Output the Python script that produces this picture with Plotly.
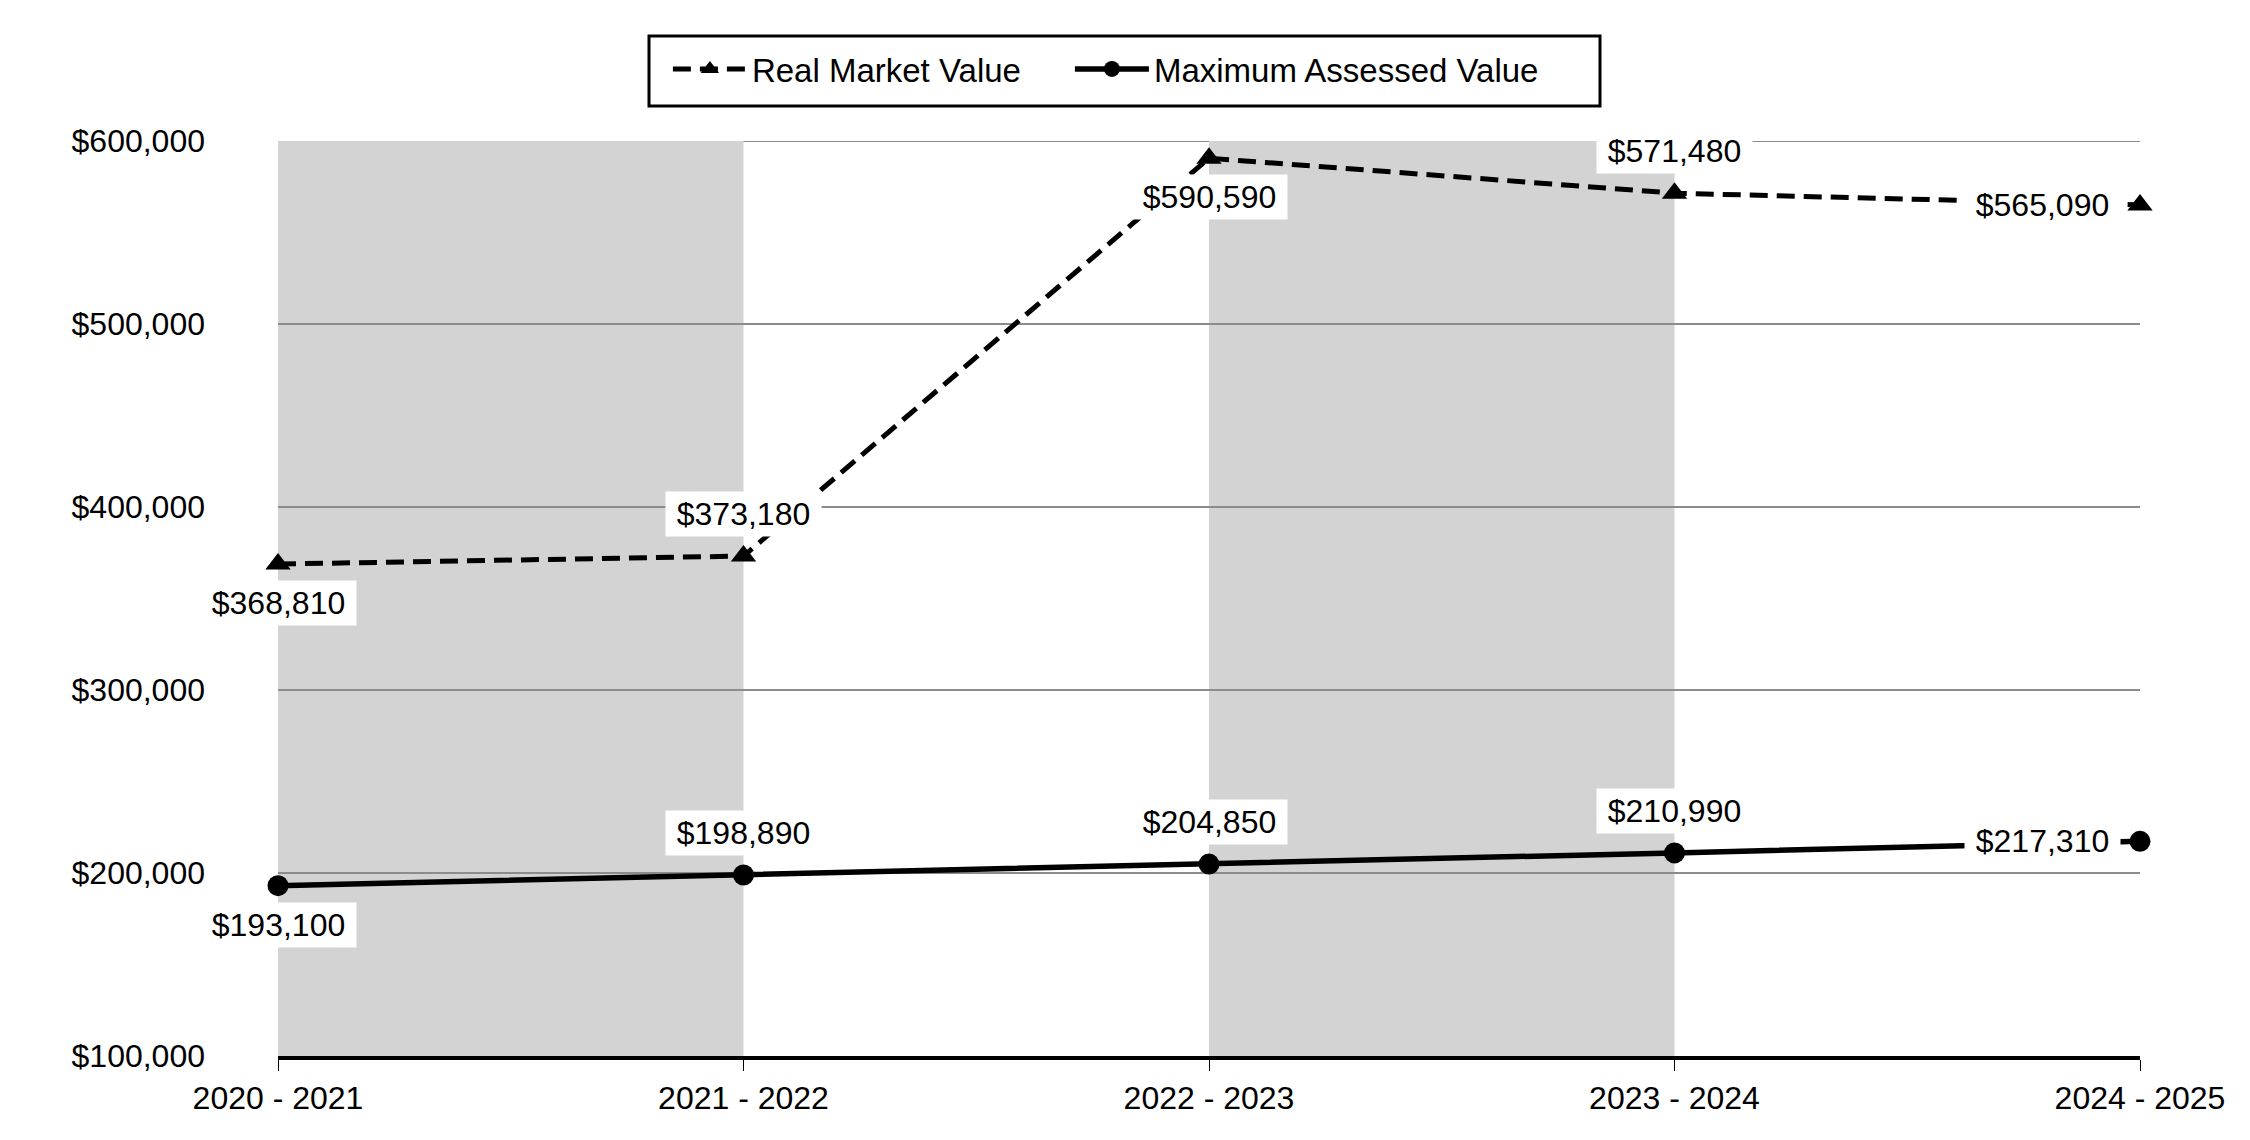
import plotly.graph_objects as go

categories = ["2020 - 2021", "2021 - 2022", "2022 - 2023", "2023 - 2024", "2024 - 2025"]
real_market_value = [368810, 373180, 590590, 571480, 565090]
max_assessed_value = [193100, 198890, 204850, 210990, 217310]
y_tick_values = [100000, 200000, 300000, 400000, 500000, 600000]
y_tick_labels = ["$100,000", "$200,000", "$300,000", "$400,000", "$500,000", "$600,000"]
# label placement per point: 'above', 'below', 'left'
rmv_label_pos = ["below", "above", "below", "above", "left"]
mav_label_pos = ["below", "above", "above", "above", "left"]

FONT = "Liberation Sans, Arial, sans-serif"
FS = 32
xs = list(range(len(categories)))

fig = go.Figure()
fig.add_trace(go.Scatter(
    x=xs, y=real_market_value, name="Real Market Value", mode="lines+markers",
    line=dict(color="black", width=5, dash="18px,9px"),
    marker=dict(symbol="triangle-up", size=22, color="black"),
    cliponaxis=False, legend="legend",
))
fig.add_trace(go.Scatter(
    x=xs, y=max_assessed_value, name="Maximum Assessed Value", mode="lines+markers",
    line=dict(color="black", width=5.5),
    marker=dict(symbol="circle", size=21, color="black"),
    cliponaxis=False, legend="legend2",
))

# alternating shaded bands
for i in range(0, len(categories) - 1, 2):
    fig.add_shape(type="rect", xref="x", yref="y", x0=xs[i], x1=xs[i + 1],
                  y0=y_tick_values[0], y1=y_tick_values[-1],
                  fillcolor="#d3d3d3", line_width=0, layer="below")
# top gridline (at the edge of the range)
fig.add_shape(type="line", xref="paper", yref="y", x0=0, x1=1,
              y0=y_tick_values[-1], y1=y_tick_values[-1],
              line=dict(color="#8c8c8c", width=2), layer="below")
# legend frame
fig.add_shape(type="rect", xref="paper", yref="paper", x0=0.19925, x1=0.70999,
              y0=1.0383, y1=1.1148, line=dict(color="black", width=3),
              fillcolor="white", layer="below")

annotations = []
def add_labels(values, positions):
    for x, v, p in zip(xs, values, positions):
        a = dict(x=x, y=v, xref="x", yref="y", text=f"${v:,}", showarrow=False,
                 font=dict(family=FONT, size=FS, color="black"),
                 bgcolor="white", borderpad=4, width=147)
        if p == "above":
            a["yshift"] = 42
        elif p == "below":
            a["yshift"] = -39
        else:
            a["xshift"] = -98
        annotations.append(a)
add_labels(real_market_value, rmv_label_pos)
add_labels(max_assessed_value, mav_label_pos)

legend_common = dict(orientation="h", y=1.0787, yanchor="middle", xanchor="left",
                     borderwidth=0, bgcolor="rgba(0,0,0,0)",
                     font=dict(family=FONT, size=FS + 1, color="black"), itemwidth=74)

fig.update_layout(
    width=2250, height=1140,
    margin=dict(l=270, r=118, t=133, b=92),
    paper_bgcolor="white", plot_bgcolor="rgba(0,0,0,0)",
    font=dict(family=FONT, size=FS, color="black"),
    showlegend=True,
    legend=dict(x=0.2094, **legend_common),
    legend2=dict(x=0.4253, **legend_common),
    annotations=annotations,
    xaxis=dict(range=[0, 4], tickvals=xs, ticktext=categories, showgrid=False,
               zeroline=False, showline=True, linecolor="black", linewidth=4,
               ticks="outside", ticklen=11, tickwidth=1, tickcolor="black",
               tickfont=dict(family=FONT, size=FS, color="black")),
    yaxis=dict(range=[100000, 600000], tickvals=y_tick_values, ticktext=y_tick_labels,
               showgrid=True, gridcolor="#8c8c8c", gridwidth=2, zeroline=False,
               showline=False, ticks="", ticklabelstandoff=72,
               tickfont=dict(family=FONT, size=FS, color="black")),
)

fig.write_html("out.html")
